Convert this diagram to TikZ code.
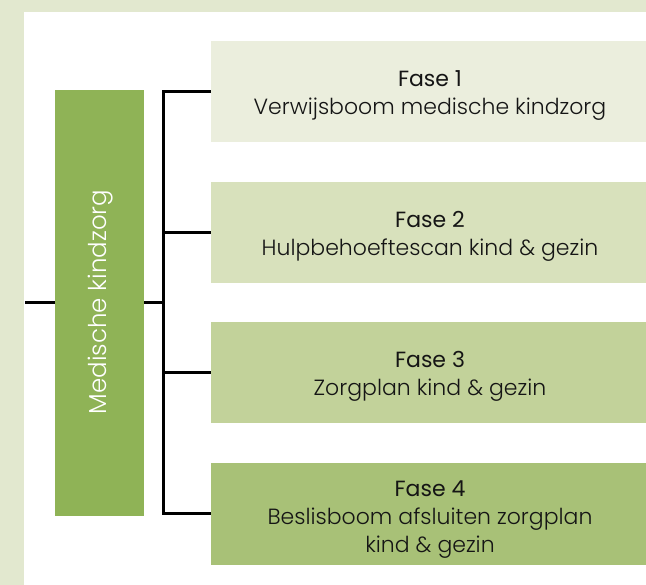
\documentclass[tikz,border=0pt]{standalone}
\usepackage{fontspec}
\setmainfont{Poppins}[UprightFont=* Light, BoldFont=* Regular]
\definecolor{bgc}{HTML}{E2E8CF}
\definecolor{cone}{HTML}{EBEEDD}
\definecolor{ctwo}{HTML}{D8E1BC}
\definecolor{cthree}{HTML}{C2D29A}
\definecolor{cfour}{HTML}{A8C177}
\definecolor{cmain}{HTML}{8FB356}
\definecolor{txt}{HTML}{151515}
\begin{document}
\begin{tikzpicture}[x=1pt,y=-1pt,
  fasebox/.style={fill=#1, draw=none, minimum width=435pt, minimum height=101pt, inner sep=0pt, anchor=west},
  fasetext/.style={align=center, text=txt, font=\fontsize{22}{28}\selectfont},
  conn/.style={line width=3pt, draw=black}]
\useasboundingbox (0,0) rectangle (646,585);
\fill[bgc] (0,0) rectangle (646,585);
\fill[white] (24,12) rectangle (646,585);
\node[fill=cmain, minimum width=89pt, minimum height=426pt, inner sep=0pt] (main) at (99.5,303) {};
\node[rotate=90, text=white, font=\fontsize{24.5}{28}\selectfont, inner sep=0pt] (mainlabel) at (101,302) {Medische kindzorg};
\node[fasebox=cone] (f1) at (211,92) {};
\node[fasebox=ctwo] (f2) at (211,233) {};
\node[fasebox=cthree] (f3) at (211,373) {};
\node[fasebox=cfour] (f4) at (211,514) {};
\node[fasetext] (t1) at (430,95.5) {\textbf{Fase 1}\\Verwijsboom medische kindzorg};
\node[fasetext] (t2) at (430,236.5) {\textbf{Fase 2}\\Hulpbehoeftescan kind \& gezin};
\node[fasetext] (t3) at (430,376.5) {\textbf{Fase 3}\\Zorgplan kind \& gezin};
\node[fasetext] (t4) at (430,519.5) {\textbf{Fase 4}\\Beslisboom afsluiten zorgplan\\kind \& gezin};
\coordinate (lend) at (25,303);
\coordinate (hub) at (163,303);
\coordinate (b1) at (163,92);
\coordinate (b4) at (163,514);
\draw[conn] (lend) -- (main.west);
\draw[conn] (main.east) -- (hub);
\draw[conn, line cap=rect] (b1) -- (b4);
\draw[conn] (b1) -- (f1.west);
\draw[conn] (163,233) -- (f2.west);
\draw[conn] (163,373) -- (f3.west);
\draw[conn] (b4) -- (f4.west);
\end{tikzpicture}
\end{document}
